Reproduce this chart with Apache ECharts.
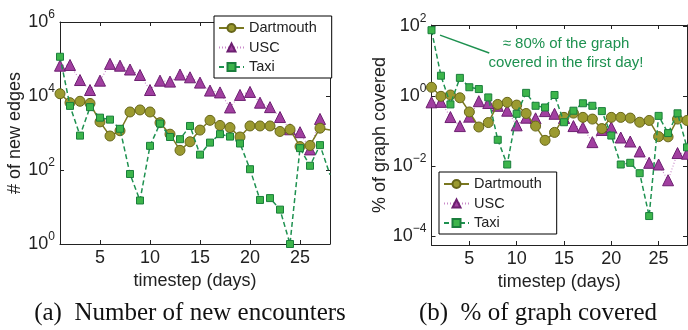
<!DOCTYPE html>
<html><head><meta charset="utf-8">
<script src="https://cdn.jsdelivr.net/npm/echarts@6/dist/echarts.min.js"></script>
<style>html,body{margin:0;padding:0;background:#fff}#c{width:688px;height:330px}</style>
</head><body><div id="c"></div>
<script>
// ---- data ----
const days = [1,2,3,4,5,6,7,8,9,10,11,12,13,14,15,16,17,18,19,20,21,22,23,24,25,26,27,28];
// (a) number of new edges
const edgesDartmouth = [11500,6600,7200,6300,2000,830,1150,3700,4200,3700,1900,930,340,580,1200,2200,1600,1400,780,1550,1550,1550,1100,1250,430,460,1350,1200];
const edgesUSC = [66000,69000,27000,14500,26000,74000,66000,52000,37000,14500,26000,24500,38000,32000,23000,14000,12500,4900,10700,12900,6600,5000,2700,1260,1050,360,2400,null];
const edgesTaxi = [115000,5400,850,5000,2600,2300,1300,78,15,450,1800,780,680,1550,260,550,930,800,520,105,15.5,17.4,8.5,1,390,130,470,74];
// (b) % of graph covered
const covDartmouth = [1.78,0.98,1.07,0.89,0.35,0.13,0.174,0.575,0.66,0.55,0.316,0.138,0.054,0.091,0.245,0.324,0.245,0.219,0.117,0.245,0.245,0.234,0.178,0.2,0.069,0.068,0.219,0.2];
const covUSC = [0.66,0.68,0.25,0.138,0.257,0.71,0.63,0.525,0.38,0.145,0.24,0.23,0.37,0.31,0.234,0.138,0.126,0.048,0.107,0.126,0.065,0.05,0.026,0.0123,0.011,0.0039,0.0234,0.0224];
const covTaxi = [76,3.8,0.575,3.3,1.78,1.58,0.91,0.056,0.011,0.31,1.23,0.525,0.47,1.07,0.178,0.38,0.62,0.525,0.37,0.074,0.011,0.0123,0.0062,0.00037,0.27,0.087,0.32,0.034];
const xTicks = [5,10,15,20,25];
const yTicksA = [1,100,10000,1000000];
const yTicksB = [0.0001,0.01,1,100];
const seriesNames = ['Dartmouth','USC','Taxi'];

// ---- style ----
const FF = 'Liberation Sans, Arial, sans-serif';
const TXT = '#222';
const styles = {
  Dartmouth: {symbol:'circle', symbolSize:10, fill:'#9b9a30', edge:'#67661a', line:{color:'#7a7820', width:1.5, type:'solid'}},
  USC: {symbol:'triangle', symbolSize:11, fill:'#a13fa0', edge:'#6c1f70', line:{color:'#c98ac9', width:1.2, type:[1,2]}},
  Taxi: {symbol:'rect', symbolSize:7, fill:'#3db54b', edge:'#1a7e3c', line:{color:'#1e9150', width:1.5, type:[5,3]}}
};
function logLabel(v){
  const e = Math.round(Math.log10(v));
  return '{b|10}{s|' + (e < 0 ? '\u2212' + (-e) : e) + '}';
}
const labelRich = {
  b:{fontSize:18, fontFamily:FF, color:TXT},
  s:{fontSize:12, fontFamily:FF, color:TXT, padding:[0,0,14,0]}
};
const axisLine = {show:true, lineStyle:{color:'#222', width:1}};

function xAx(grid, main){
  return {
    type:'value', gridIndex:grid, min:1, max:28, position: main ? 'bottom' : 'top',
    axisLine, splitLine:{show:false},
    axisTick:{show:true, inside:true, length:4, customValues:xTicks, lineStyle:{color:'#222'}},
    axisLabel:{show:main, customValues:xTicks, fontSize:18, fontFamily:FF, color:TXT, margin:5},
    name: main ? 'timestep (days)' : '', nameLocation:'middle', nameGap:15,
    nameTextStyle:{fontSize:18, fontFamily:FF, color:TXT}
  };
}
function yAx(grid, main, min, max, ticks, name, gap){
  return {
    type:'log', logBase:10, gridIndex:grid, min, max, position: main ? 'left' : 'right',
    axisLine, splitLine:{show:false}, minorTick:{show:false},
    axisTick:{show:true, inside:true, length:4, customValues:ticks, lineStyle:{color:'#222'}},
    axisLabel:{show:main, customValues:ticks, formatter:logLabel, rich:labelRich, margin:5},
    name: main ? name : '', nameLocation:'middle', nameGap:gap, nameRotate:90,
    nameTextStyle:{fontSize:18, fontFamily:FF, color:TXT}
  };
}
function mkSeries(name, data, xi, yi, hideLast){
  const s = styles[name];
  const pts = data.map((v,i)=> {
    if (v === null) return null;
    const p = {value:[days[i], v]};
    if (hideLast && i === data.length-1) p.symbol = 'none';
    return p;
  }).filter(p=>p!==null);
  return {
    type:'line', name, xAxisIndex:xi, yAxisIndex:yi, data:pts,
    symbol:s.symbol, symbolSize:s.symbolSize, showAllSymbol:true,
    itemStyle:{color:s.fill, borderColor:s.edge, borderWidth:1},
    lineStyle:s.line, clip:true, animation:false, z:name==='Taxi'?4:(name==='USC'?2:3)
  };
}
function legendAt(left, top){
  return {
    left, top, orient:'vertical', data:seriesNames,
    itemWidth:25, itemHeight:10, itemGap:4.5,
    padding:[4.5,15,3.5,4], borderColor:'#000', borderWidth:1, backgroundColor:'#fff',
    textStyle:{fontSize:14.5, fontFamily:FF, color:TXT}, selectedMode:false
  };
}

const chart = echarts.init(document.getElementById('c'), null, {renderer:'canvas'});
chart.setOption({
  animation:false,
  backgroundColor:'#fff',
  grid:[
    {left:60, top:22, width:270, height:222},
    {left:431.5, top:25, width:255.5, height:220}
  ],
  xAxis:[xAx(0,true), xAx(0,false), xAx(1,true), xAx(1,false)],
  yAxis:[
    yAx(0,true,1,1e6,yTicksA,'# of new edges',33),
    yAx(0,false,1,1e6,yTicksA,'',0),
    yAx(1,true,Math.pow(10,-4.26),Math.pow(10,2.03),yTicksB,'% of graph covered',38),
    yAx(1,false,Math.pow(10,-4.26),Math.pow(10,2.03),yTicksB,'',0)
  ],
  legend:[legendAt(214,16), legendAt(439,172)],
  series:[
    mkSeries('Dartmouth', edgesDartmouth, 0, 0, true),
    mkSeries('USC', edgesUSC, 0, 0, true),
    mkSeries('Taxi', edgesTaxi, 0, 0, true),
    mkSeries('Dartmouth', covDartmouth, 2, 2, false),
    mkSeries('USC', covUSC, 2, 2, false),
    Object.assign(mkSeries('Taxi', covTaxi, 2, 2, false), {
      markLine:{
        silent:true, animation:false, symbol:['none','arrow'], symbolSize:[0,9],
        lineStyle:{color:'#1e9150', width:1.5, type:'solid'}, label:{show:false},
        data:[[{coord:[7.1,17]},{coord:[1.9,55]}]]
      }
    })
  ],
  graphic:[
    {type:'text', x:566, y:44, style:{text:'\u2248 80% of the graph', font:'15px Liberation Sans, Arial, sans-serif', fill:'#1e9150', align:'center', verticalAlign:'middle'}},
    {type:'text', x:566, y:63, style:{text:'covered in the first day!', font:'15px Liberation Sans, Arial, sans-serif', fill:'#1e9150', align:'center', verticalAlign:'middle'}},
    {type:'text', x:190, y:313, style:{text:'(a)  Number of new encounters', font:'25px Liberation Serif, Times New Roman, serif', fill:'#111', align:'center', verticalAlign:'middle'}},
    {type:'text', x:538, y:313, style:{text:'(b)  % of graph covered', font:'25px Liberation Serif, Times New Roman, serif', fill:'#111', align:'center', verticalAlign:'middle'}}
  ]
});
</script>
</body></html>
